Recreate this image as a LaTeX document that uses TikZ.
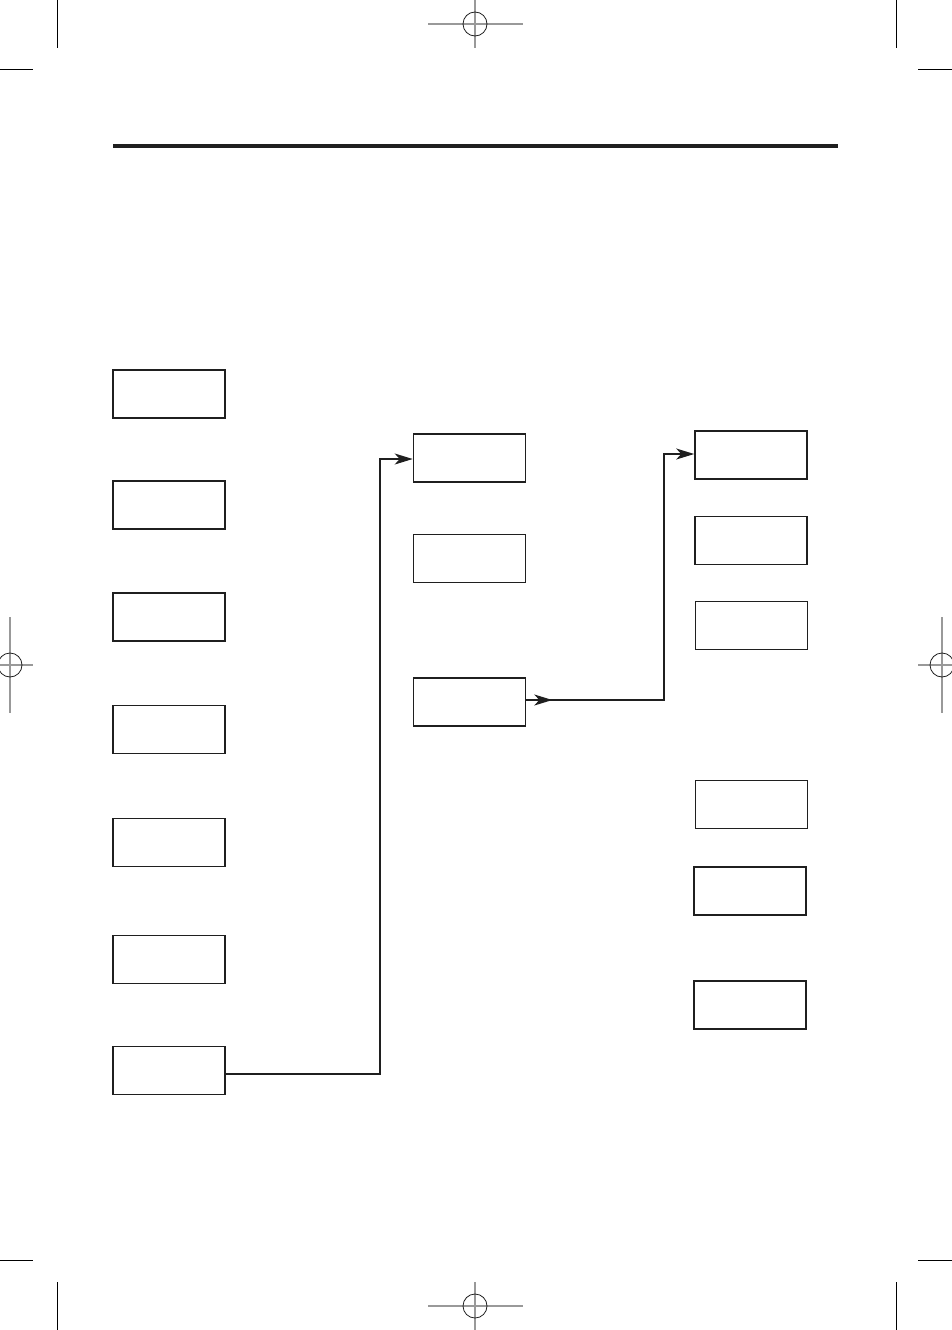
\documentclass[tikz,border=0pt]{standalone}
\usetikzlibrary{arrows.meta,decorations.markings}
\definecolor{regGray}{gray}{0.6}
\definecolor{inkBlack}{gray}{0.12}
\begin{document}
\begin{tikzpicture}[x=1pt,y=-1pt,
  box/.style={draw=inkBlack,line width=1.6pt,minimum width=112pt,minimum height=48pt,inner sep=0pt},
  conn/.style={draw=inkBlack,line width=1.4pt,-{Stealth[length=18pt,width=11pt,inset=5pt]}},
  midarrow/.style={postaction={decorate},decoration={markings,mark=at position 26pt with {\arrow{Stealth[length=18pt,width=11pt,inset=5pt]}}}},
  crop/.style={draw=black,line width=1pt},
  regline/.style={draw=regGray,line width=1.2pt},
  regcirc/.style={draw=inkBlack,line width=0.8pt}]
\useasboundingbox (0,0) rectangle (952,1330);
% crop marks
\draw[crop] (57,0) -- (57,48);
\draw[crop] (896,0) -- (896,48);
\draw[crop] (0,70) -- (33,70);
\draw[crop] (918,70) -- (952,70);
\draw[crop] (57,1282) -- (57,1330);
\draw[crop] (896,1282) -- (896,1330);
\draw[crop] (0,1260) -- (33,1260);
\draw[crop] (918,1260) -- (952,1260);
% registration marks
\draw[regline] (428,24) -- (523,24);
\draw[regline] (475,0) -- (475,48);
\draw[regcirc] (475,24) circle[radius=12];
\draw[regline] (428,1306) -- (523,1306);
\draw[regline] (475,1282) -- (475,1330);
\draw[regcirc] (475,1306) circle[radius=12];
\draw[regline] (0,665) -- (33,665);
\draw[regline] (10,617) -- (10,713);
\draw[regcirc] (10,665) circle[radius=12];
\draw[regline] (918,665) -- (952,665);
\draw[regline] (942,617) -- (942,713);
\draw[regcirc] (942,665) circle[radius=12];
% title rule
\draw[line width=4pt,draw=inkBlack] (113,146) -- (838,146);
% left column
\node[box] (l1) at (169,394) {};
\node[box] (l2) at (169,505) {};
\node[box] (l3) at (169,617) {};
\node[box] (l4) at (169,729.5) {};
\node[box] (l5) at (169,842.5) {};
\node[box] (l6) at (169,959.5) {};
\node[box] (l7) at (169,1070.5) {};
% middle column
\node[box] (m1) at (469.5,458) {};
\node[box] (m2) at (469.5,558.5) {};
\node[box] (m3) at (469.5,702) {};
% right column
\node[box] (r1) at (751,455) {};
\node[box] (r2) at (751,540.5) {};
\node[box] (r3) at (751.5,625.5) {};
\node[box] (r4) at (751.5,804.5) {};
\node[box] (r5) at (750,891) {};
\node[box] (r6) at (750,1005) {};
% connectors
\coordinate (j1) at (380,459);
\draw[conn] ([yshift=-3.5pt]l7.east) -| (j1) -- (j1 -| m1.west);
\coordinate (j2) at (664,454);
\draw[conn,midarrow] ([yshift=2pt]m3.east) -| (j2) -- (j2 -| r1.west);
\end{tikzpicture}
\end{document}
